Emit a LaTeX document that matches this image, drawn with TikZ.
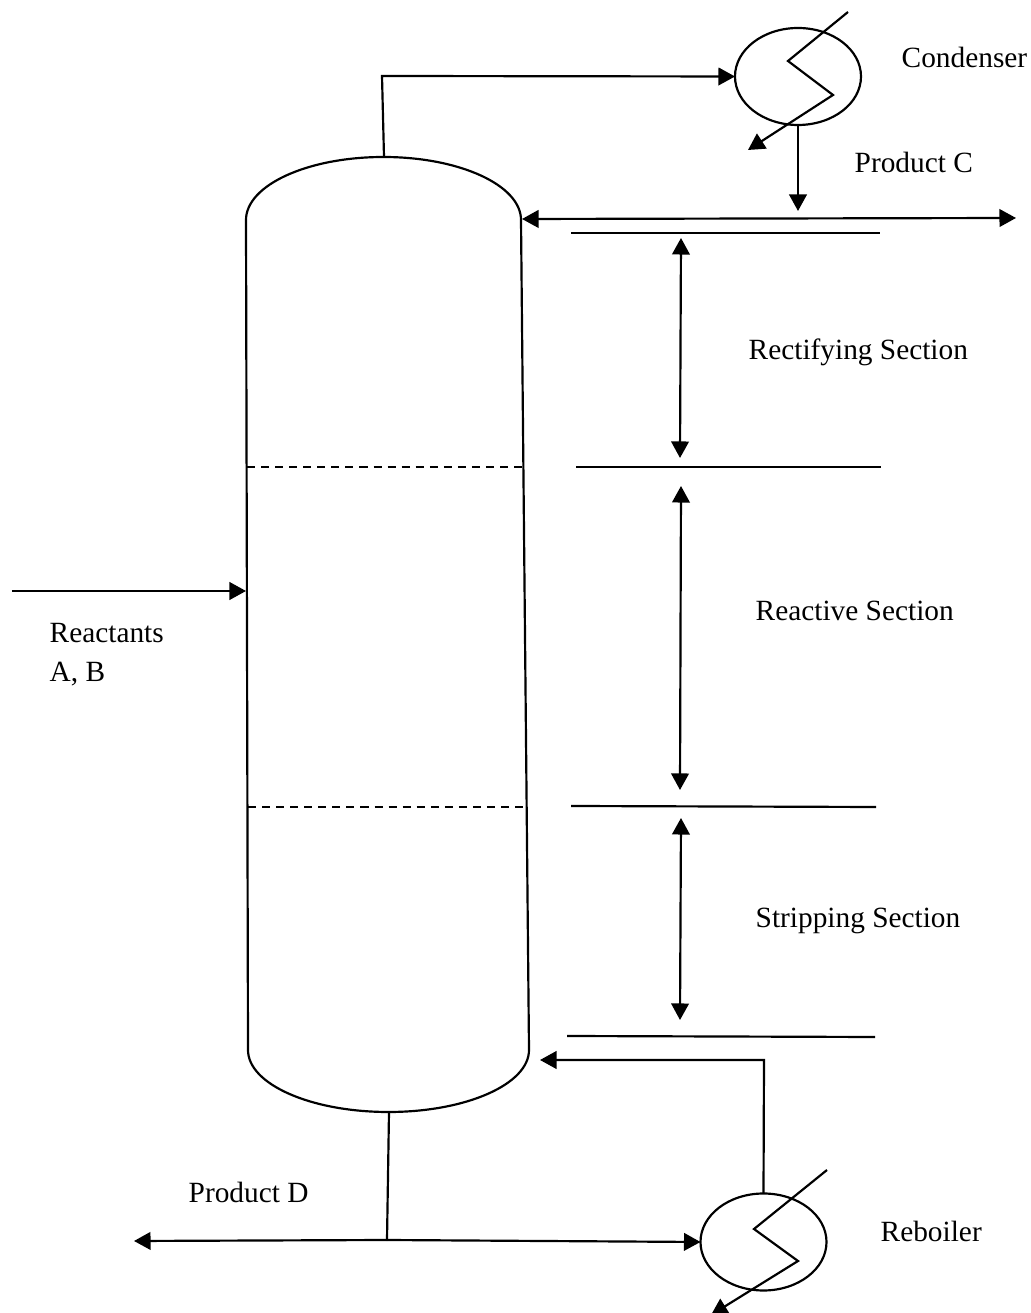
\documentclass[tikz,border=0pt]{standalone}
\usepackage{fontspec}
\setmainfont{Liberation Serif}
\usetikzlibrary{arrows.meta,shapes.geometric}
\tikzset{
    line/.style={line width=0.62pt},
    flow/.style={line, -{Triangle[length=4.7pt,width=5pt]}},
    both/.style={line, {Triangle[length=4.7pt,width=5pt]}-{Triangle[length=4.7pt,width=5pt]}},
    partition/.style={line, dash pattern=on 2.3pt off 1.7pt},
    exchanger/.style={ellipse, draw, line width=0.62pt, inner sep=0pt, outer sep=0pt, minimum width=1.26cm, minimum height=0.97cm},
    label/.style={font=\fontsize{8.35}{10}\selectfont, inner sep=0pt}
}
\begin{document}
\begin{tikzpicture}
        \useasboundingbox (0,0) rectangle (10.3,13.13);
        \coordinate (colTL) at (2.46,10.93);
        \coordinate (colBR) at (5.29,2.63);
        \coordinate (colTop) at (3.84,11.56);
        \coordinate (colBot) at (3.89,2.01);
        \draw[line] (colTL) arc[start angle=180, end angle=0, x radius=1.375, y radius=0.63]
            -- (colBR) arc[start angle=0, end angle=-180, x radius=1.405, y radius=0.62] -- cycle;
        \coordinate (dashA1) at (2.47,8.46);
        \coordinate (dashA2) at (5.22,8.46);
        \coordinate (dashB1) at (2.48,5.06);
        \coordinate (dashB2) at (5.23,5.06);
        \draw[partition] (dashA1) -- (dashA2);
        \draw[partition] (dashB1) -- (dashB2);

        \node[exchanger] (condenser) at (7.98,12.365) {};
        \node[exchanger] (reboiler) at (7.635,0.71) {};

        \coordinate (topCorner) at (3.82,12.37);
        \draw[flow] (colTop) -- (topCorner) -- (condenser.west);
        \coordinate (coilA1) at (8.48,13.01);
        \coordinate (coilA2) at (7.88,12.52);
        \coordinate (coilA3) at (8.33,12.18);
        \coordinate (coilA4) at (7.48,11.63);
        \draw[flow] (coilA1) -- (coilA2) -- (coilA3) -- (coilA4);
        \coordinate (refluxL) at (5.22,10.94);
        \coordinate (refluxR) at (10.16,10.95);
        \coordinate (refluxM) at (7.98,11.02);
        \draw[both] (refluxL) -- (refluxR);
        \draw[flow] (condenser.south) -- (refluxM);

        \coordinate (ruleA1) at (5.71,10.80);
        \coordinate (ruleA2) at (8.80,10.80);
        \coordinate (ruleB1) at (5.76,8.46);
        \coordinate (ruleB2) at (8.81,8.46);
        \coordinate (ruleC1) at (5.71,5.07);
        \coordinate (ruleC2) at (8.76,5.06);
        \coordinate (ruleD1) at (5.67,2.77);
        \coordinate (ruleD2) at (8.75,2.76);
        \draw[line] (ruleA1) -- (ruleA2);
        \draw[line] (ruleB1) -- (ruleB2);
        \draw[line] (ruleC1) -- (ruleC2);
        \draw[line] (ruleD1) -- (ruleD2);

        \coordinate (spanA1) at (6.81,10.75);
        \coordinate (spanA2) at (6.80,8.55);
        \coordinate (spanB1) at (6.81,8.27);
        \coordinate (spanB2) at (6.80,5.23);
        \coordinate (spanC1) at (6.81,4.95);
        \coordinate (spanC2) at (6.80,2.93);
        \draw[both] (spanA1) -- (spanA2);
        \draw[both] (spanB1) -- (spanB2);
        \draw[both] (spanC1) -- (spanC2);

        \coordinate (feedL) at (0.12,7.22);
        \coordinate (feedR) at (2.46,7.22);
        \draw[flow] (feedL) -- (feedR);

        \coordinate (botJoin) at (3.87,0.73);
        \coordinate (botL) at (1.34,0.72);
        \draw[line] (colBot) -- (botJoin);
        \draw[flow] (botJoin) -- (botL);
        \draw[flow] (botJoin) -- (reboiler.west);

        \coordinate (riseCorner) at (7.64,2.53);
        \coordinate (riseEnd) at (5.40,2.53);
        \draw[flow] (reboiler.north) -- (riseCorner) -- (riseEnd);
        \coordinate (coilB1) at (8.27,1.43);
        \coordinate (coilB2) at (7.54,0.84);
        \coordinate (coilB3) at (7.98,0.52);
        \coordinate (coilB4) at (7.11,-0.02);
        \draw[flow] (coilB1) -- (coilB2) -- (coilB3) -- (coilB4);

        \node[label, anchor=west] (condenserText) at (9.01,12.56) {Condenser};
        \node[label, anchor=west] (productC) at (8.54,11.51) {Product C};
        \node[label, anchor=west] (rectifying) at (7.48,9.61) {Rectifying Section};
        \node[label, anchor=west] (reactive) at (7.55,7.02) {Reactive Section};
        \node[label, anchor=west] (stripping) at (7.55,3.92) {Stripping Section};
        \node[label, anchor=west] (reactants) at (0.49,6.80) {Reactants};
        \node[label, anchor=west] (reactantsAB) at (0.49,6.39) {A, B};
        \node[label, anchor=west] (productD) at (1.88,1.21) {Product D};
        \node[label, anchor=west] (reboilerText) at (8.80,0.82) {Reboiler};
    \end{tikzpicture}
\end{document}
